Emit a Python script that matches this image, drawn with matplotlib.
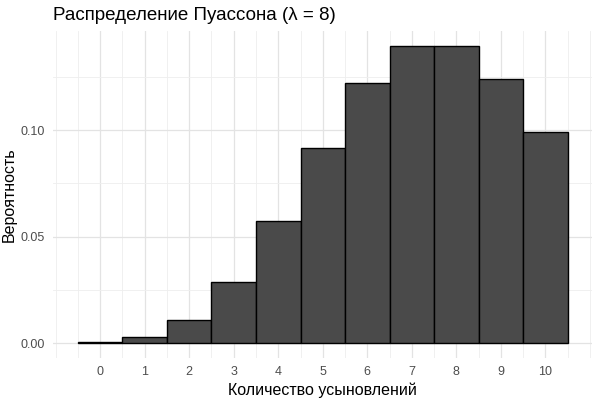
import matplotlib
matplotlib.use('Agg')
import matplotlib.pyplot as plt
import numpy as np

plt.rcParams['font.family'] = ['Liberation Sans', 'DejaVu Sans']

# Values
counts = [0, 1, 2, 3, 4, 5, 6, 7, 8, 9, 10]
probs = [0.0003, 0.0027, 0.0107, 0.0286, 0.0573, 0.0916, 0.1221, 0.1396, 0.1396, 0.1241, 0.0993]
y_ticks = [0.00, 0.05, 0.10]

fig = plt.figure(figsize=(6, 4), dpi=100)
ax = fig.add_axes([0.089, 0.105, 0.898, 0.8175])

ax.bar(counts, probs, width=1.0, color='#4a4a4a', edgecolor='black', linewidth=1.0, zorder=3)

ax.set_xlim(-1.05, 11.05)
ax.set_ylim(-0.007, 0.1466)

ax.set_xticks(counts)
ax.set_xticks(np.arange(-1, 11.5, 0.5), minor=True)
ax.set_yticks(y_ticks)
ax.set_yticks([0.025, 0.075, 0.125], minor=True)
ax.set_yticklabels(['0.00', '0.05', '0.10'])

ax.grid(which='major', color='#e3e3e3', linewidth=0.9, zorder=0)
ax.grid(which='minor', color='#eeeeee', linewidth=0.6, zorder=0)
for s in ax.spines.values():
    s.set_visible(False)
ax.tick_params(which='both', length=0, labelsize=9, labelcolor='#4d4d4d', pad=6)

ax.set_xlabel('Количество усыновлений', fontsize=11.5, labelpad=3)
ax.set_ylabel('Вероятность', fontsize=11.5, labelpad=3)
ax.set_title('Распределение Пуассона (λ = 8)', fontsize=13.5, loc='left', pad=8)

fig.savefig('out.png', dpi=100)
